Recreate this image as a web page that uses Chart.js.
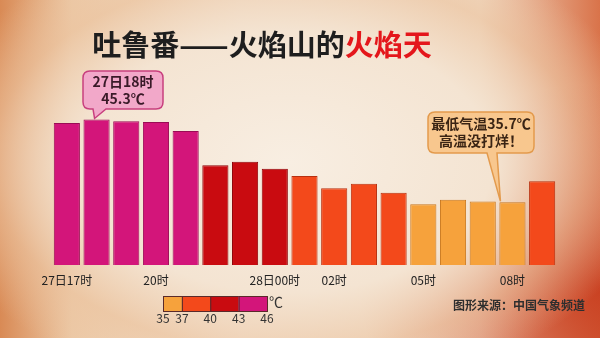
<!DOCTYPE html>
<html>
<head>
<meta charset="utf-8">
<script src="https://cdn.jsdelivr.net/npm/chart.js@4/dist/chart.umd.min.js"></script>
<style>
  html, body { margin: 0; padding: 0; }
  body {
    width: 600px; height: 338px; overflow: hidden;
    background:
      radial-gradient(ellipse 62% 70% at 48% 48%, rgba(248,238,226,1) 0%, rgba(244,228,210,1) 55%, rgba(236,196,160,0.6) 80%, rgba(220,120,70,0) 100%),
      radial-gradient(ellipse 40% 60% at 100% 85%, rgba(200,60,30,0.9) 0%, rgba(200,60,30,0) 100%),
      linear-gradient(90deg, #d98a55 0%, #ecc9a6 12%, #f3e3d2 40%, #f0d9c2 80%, #d9734a 100%);
  }
  #wrap { position: relative; width: 600px; height: 338px; }
</style>
</head>
<body>
<div id="wrap"><canvas id="chart" width="600" height="338"></canvas></div>
<script>
// hourly temperature, Turpan, 27th 17:00 -> 28th 09:00
const hours = ["27日17时", "18时", "19时", "20时", "21时", "22时", "23时", "28日00时", "01时",
  "02时", "03时", "04时", "05时", "06时", "07时", "08时", "09时"];
const tickLabels = ["27日17时", "", "", "20时", "", "", "", "28日00时", "", "02时", "", "", "05时", "", "", "08时", ""];
const temps = [44.9, 45.3, 45.1, 45.0, 44.0, 40.1, 40.5, 39.7, 38.9, 37.5, 38.0, 37.0, 35.7, 36.2, 36.0, 35.9, 38.3];

// colour key
const legendStops = [35, 37, 40, 43, 46];
const legendColors = ["#f6a23c", "#f3491b", "#c90b10", "#d3157a"];

// bar colour band index (as in the picture)
const barBand = [3, 3, 3, 3, 3, 2, 2, 2, 1, 1, 1, 1, 0, 0, 0, 0, 1];
const borderColors = ["#c9781f", "#b8300f", "#8e0508", "#9a0c55"];

const FONT = "'Noto Sans CJK SC', 'Noto Sans', sans-serif";

function drawCallout(ctx, box, tip, tailBase, fill, stroke, lines, textColor) {
  const r = 7;
  const { x, y, w, h } = box;
  ctx.save();
  ctx.beginPath();
  ctx.moveTo(x + r, y);
  ctx.lineTo(x + w - r, y);
  ctx.quadraticCurveTo(x + w, y, x + w, y + r);
  ctx.lineTo(x + w, y + h - r);
  ctx.quadraticCurveTo(x + w, y + h, x + w - r, y + h);
  ctx.lineTo(tailBase[1], y + h);
  ctx.lineTo(tip[0], tip[1]);
  ctx.lineTo(tailBase[0], y + h);
  ctx.lineTo(x + r, y + h);
  ctx.quadraticCurveTo(x, y + h, x, y + h - r);
  ctx.lineTo(x, y + r);
  ctx.quadraticCurveTo(x, y, x + r, y);
  ctx.closePath();
  ctx.fillStyle = fill;
  ctx.fill();
  ctx.lineWidth = 1.5;
  ctx.strokeStyle = stroke;
  ctx.stroke();
  ctx.fillStyle = textColor;
  ctx.textAlign = "center";
  ctx.textBaseline = "middle";
  ctx.font = "bold 14px " + FONT;
  const cx = x + w / 2;
  const lh = 17;
  const y0 = y + h / 2 - (lines.length - 1) * lh / 2;
  lines.forEach((t, i) => ctx.fillText(t, cx, y0 + i * lh));
  ctx.restore();
}

const decorations = {
  id: "decorations",
  afterDatasetsDraw(chart) {
    const ctx = chart.ctx;
    const bars = chart.getDatasetMeta(0).data;

    // title
    ctx.save();
    ctx.font = "bold 29px " + FONT;
    ctx.textBaseline = "middle";
    ctx.textAlign = "left";
    const t1 = "吐鲁番——火焰山的";
    const t2 = "火焰天";
    const w1 = ctx.measureText(t1).width;
    const w2 = ctx.measureText(t2).width;
    const sx = 262 - (w1 + w2) / 2;
    ctx.fillStyle = "#1e1e1e";
    ctx.fillText(t1, sx, 45);
    ctx.fillStyle = "#e4161b";
    ctx.fillText(t2, sx + w1, 45);
    ctx.restore();

    // max callout, pointing at the 18时 bar
    const b1 = bars[1];
    drawCallout(ctx, { x: 83, y: 71, w: 80, h: 38 }, [b1.x - 2, b1.y - 1], [93, 106],
      "#f2a8c9", "#c8407e", ["27日18时", "45.3℃"], "#3a1a28");

    // min callout, pointing at the 08时 bar
    const b2 = bars[15];
    drawCallout(ctx, { x: 428, y: 112, w: 106, h: 41 }, [b2.x - 12, b2.y - 1], [487, 497],
      "#f8c78e", "#e39a4c", ["最低气温35.7℃", "高温没打烊！"], "#3a2414");

    // colour key
    const kx = 163, ky = 296, kw = 104, kh = 15;
    const span = legendStops[legendStops.length - 1] - legendStops[0];
    ctx.save();
    for (let i = 0; i < legendColors.length; i++) {
      const a = kx + (legendStops[i] - legendStops[0]) / span * kw;
      const b = kx + (legendStops[i + 1] - legendStops[0]) / span * kw;
      ctx.fillStyle = legendColors[i];
      ctx.fillRect(a, ky, b - a, kh);
      ctx.strokeStyle = "#5a2a2a";
      ctx.lineWidth = 1;
      ctx.strokeRect(a + 0.5, ky + 0.5, b - a, kh);
    }
    ctx.fillStyle = "#333";
    ctx.font = "12px " + FONT;
    ctx.textAlign = "center";
    ctx.textBaseline = "middle";
    legendStops.forEach((s) => {
      ctx.fillText(String(s), kx + (s - legendStops[0]) / span * kw, ky + kh + 7);
    });
    ctx.font = "14px " + FONT;
    ctx.fillText("℃", kx + kw + 9, ky + 6);

    // source
    ctx.font = "bold 12px " + FONT;
    ctx.fillStyle = "#2e2e2e";
    ctx.textAlign = "left";
    ctx.fillText("图形来源：中国气象频道", 453, 305);
    ctx.restore();
  },
};

const canvas = document.getElementById("chart");
canvas.chart = new Chart(canvas.getContext("2d"), {
  type: "bar",
  data: {
    labels: hours,
    datasets: [
      {
        data: temps,
        backgroundColor: barBand.map((b) => legendColors[b]),
        borderColor: barBand.map((b) => borderColors[b]),
        borderWidth: 1,
        barPercentage: 0.88,
        categoryPercentage: 1,
      },
    ],
  },
  options: {
    responsive: false,
    animation: false,
    layout: {
      padding: { left: 52, right: 43, top: 78, bottom: 43 },
    },
    plugins: {
      legend: { display: false },
      tooltip: { enabled: false },
    },
    scales: {
      x: {
        grid: { display: false, drawTicks: false },
        border: { display: false },
        afterFit: (scale) => { scale.height = 30; },
        ticks: {
          autoSkip: false,
          maxRotation: 0,
          padding: 8,
          color: "#222",
          font: { size: 12, family: FONT },
          callback: (value, index) => tickLabels[index],
        },
      },
      y: {
        display: false,
        min: 28.8,
        max: 50,
      },
    },
  },
  plugins: [decorations],
});
</script>
</body>
</html>
